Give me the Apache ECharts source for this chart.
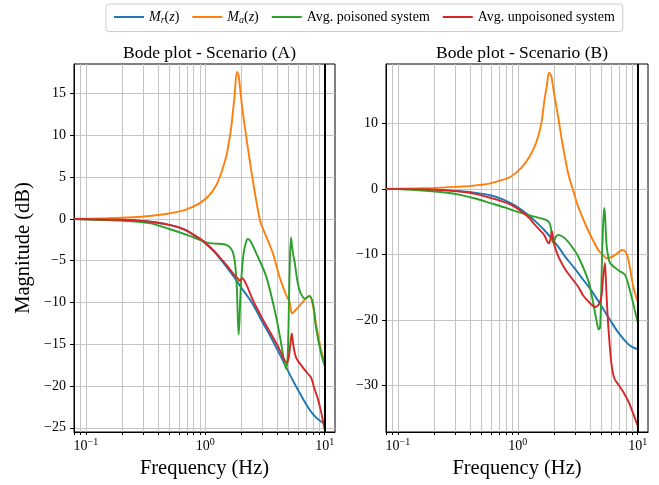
<!DOCTYPE html>
<html>
<head>
<meta charset="utf-8">
<script src="https://cdn.jsdelivr.net/npm/echarts@6/dist/echarts.min.js"></script>
<style>
  html, body { margin: 0; padding: 0; background: #fff; }
  #main { width: 659px; height: 485px; }
</style>
</head>
<body>
<div id="main"></div>
<script>
// [frequency (Hz), magnitude (dB)]
const mrA = [[0.08,0],[0.15,-0.05],[0.2,-0.1],[0.3,-0.25],[0.4,-0.45],[0.5,-0.7],[0.6,-1.0],[0.7,-1.4],[0.8,-1.9],[0.9,-2.4],[1.0,-2.9],[1.2,-4.0],[1.5,-5.7],[1.75,-7.0],[2.0,-8.2],[2.45,-10.0],[3.0,-12.3],[3.5,-14.0],[4.0,-15.6],[4.7,-17.6],[5.4,-19.3],[6.0,-20.5],[7.0,-22.2],[8.0,-23.4],[9.0,-24.1],[10,-24.5]];
const maA = [[0.08,0],[0.15,0.08],[0.25,0.2],[0.34,0.35],[0.47,0.6],[0.61,0.9],[0.74,1.3],[0.9,1.9],[1.09,2.9],[1.24,4.1],[1.36,5.5],[1.5,7.5],[1.58,9.3],[1.65,11.0],[1.76,14.8],[1.84,17.6],[1.9,17.2],[1.96,15.5],[2.05,13.0],[2.2,9.9],[2.42,5.9],[2.67,2.2],[2.9,-0.4],[3.13,-1.6],[3.68,-4.1],[4.18,-6.9],[4.75,-9.1],[5.07,-9.9],[5.2,-10.8],[5.33,-11.3],[5.7,-10.9],[6.14,-10.4],[7.0,-9.5],[7.5,-9.3],[8.0,-10.5],[8.44,-12.5],[9.33,-15.7],[10,-17.1]];
const poisA = [[0.08,0],[0.19,-0.2],[0.34,-0.5],[0.5,-1.2],[0.7,-1.9],[0.9,-2.5],[1.02,-2.8],[1.2,-2.95],[1.4,-3.0],[1.55,-3.2],[1.65,-3.6],[1.72,-4.2],[1.78,-5.5],[1.84,-8.5],[1.9,-13.8],[1.93,-12.5],[1.97,-9.0],[2.03,-6.0],[2.1,-4.0],[2.2,-2.7],[2.27,-2.4],[2.4,-2.7],[2.67,-4.1],[3.24,-6.9],[3.92,-11.7],[4.32,-14.9],[4.75,-17.9],[4.9,-16.5],[5.02,-10.0],[5.12,-4.5],[5.22,-2.2],[5.32,-3.2],[5.45,-4.3],[5.58,-5.0],[5.95,-7.7],[6.3,-8.9],[6.8,-9.5],[7.45,-9.2],[8.0,-10.2],[8.44,-12.9],[9.33,-16.1],[10,-17.6]];
const unpA = [[0.08,0],[0.2,-0.1],[0.3,-0.25],[0.4,-0.45],[0.5,-0.7],[0.6,-1.0],[0.7,-1.4],[0.8,-1.9],[0.9,-2.35],[1.0,-2.85],[1.2,-3.9],[1.4,-5.0],[1.6,-6.0],[1.8,-6.9],[1.87,-7.1],[1.94,-7.4],[2.04,-7.1],[2.2,-7.8],[2.5,-9.7],[3.0,-11.9],[3.5,-13.6],[4.05,-15.2],[4.5,-16.6],[4.8,-17.2],[5.0,-16.6],[5.15,-15.0],[5.3,-13.7],[5.45,-15.0],[5.76,-16.6],[6.5,-17.7],[7.2,-18.5],[7.7,-19.0],[8.2,-20.3],[8.75,-21.5],[9.3,-23.0],[10,-25.2]];

const mrB = [[0.08,0],[0.2,-0.1],[0.33,-0.35],[0.45,-0.6],[0.6,-1.0],[0.75,-1.6],[0.88,-2.2],[1.0,-2.8],[1.21,-3.9],[1.45,-5.2],[1.67,-6.3],[2.17,-8.8],[2.5,-10.4],[2.98,-12.1],[3.5,-13.8],[4.12,-15.5],[5.0,-17.9],[5.8,-19.8],[6.9,-21.9],[8.38,-23.7],[9.2,-24.2],[10,-24.4]];
const maB = [[0.08,0],[0.2,0.15],[0.33,0.35],[0.41,0.46],[0.56,0.76],[0.72,1.3],[0.88,1.9],[1.07,3.2],[1.25,4.9],[1.42,7.0],[1.57,10.0],[1.67,13.6],[1.75,15.8],[1.82,17.7],[1.9,17.25],[1.96,15.8],[2.03,14.1],[2.17,11.0],[2.38,6.5],[2.63,2.4],[2.89,-0.15],[3.19,-2.7],[3.86,-6.3],[4.69,-9.3],[5.17,-10.1],[5.5,-10.6],[6.45,-10.1],[7.46,-9.3],[8.0,-9.7],[8.38,-10.8],[9.2,-14.9],[10,-17.2]];
const poisB = [[0.08,0],[0.15,-0.2],[0.25,-0.55],[0.33,-0.9],[0.45,-1.5],[0.6,-2.2],[0.8,-2.9],[1.0,-3.5],[1.3,-4.1],[1.57,-4.5],[1.75,-4.8],[1.85,-5.3],[1.9,-6.3],[1.95,-8.0],[1.99,-8.2],[2.06,-7.4],[2.17,-7.0],[2.46,-7.5],[2.8,-8.7],[3.19,-10.3],[3.86,-13.9],[4.2,-16.8],[4.53,-20.0],[4.73,-21.4],[4.85,-21.2],[4.95,-17.0],[5.05,-10.0],[5.18,-4.5],[5.28,-2.9],[5.38,-5.0],[5.5,-8.5],[5.7,-10.5],[5.9,-11.3],[6.9,-12.4],[7.84,-13.1],[8.6,-15.4],[9.3,-17.9],[10,-20.3]];
const unpB = [[0.08,0],[0.2,-0.1],[0.33,-0.4],[0.45,-0.8],[0.6,-1.4],[0.8,-2.1],[0.94,-2.7],[1.21,-4.2],[1.38,-5.4],[1.55,-6.4],[1.67,-7.1],[1.76,-8.0],[1.82,-8.3],[1.88,-7.5],[1.93,-6.5],[1.97,-7.5],[2.02,-8.6],[2.17,-10.2],[2.4,-11.8],[2.63,-12.9],[3.19,-14.9],[3.5,-16.2],[4.0,-17.4],[4.4,-18.0],[4.75,-17.6],[5.0,-16.2],[5.15,-13.5],[5.33,-11.3],[5.45,-14.5],[5.6,-19.0],[5.8,-23.0],[6.06,-26.8],[6.4,-28.9],[7.0,-30.0],[7.5,-30.8],[8.38,-32.4],[9.2,-34.3],[10,-36.1]];

const xMajor = [0.1, 1, 10];
const xTicks = [0.08,0.09,0.1,0.2,0.3,0.4,0.5,0.6,0.7,0.8,0.9,1,2,3,4,5,6,7,8,9,10];
const yTicksA = [-25,-20,-15,-10,-5,0,5,10,15];
const yTicksB = [-30,-20,-10,0,10];

const names = ["Mr", "Ma", "Avg. poisoned system", "Avg. unpoisoned system"];
const colors = ["#1f77b4", "#ff7f0e", "#2ca02c", "#d62728"];

const font = "Liberation Serif";
let myChart = echarts.init(document.getElementById("main"));

function fmtY(v) {
  return v < 0 ? "\u2212" + (-v) : String(v);
}
function fmtX(v) {
  let e = Math.round(Math.log10(v));
  return "{b|10}{s|" + (e < 0 ? "\u2212" + (-e) : e) + "}";
}

function xAxisFor(grid) {
  return {
    type: "log",
    gridIndex: grid,
    min: 0.0795,
    max: 12.2,
    name: "Frequency (Hz)",
    nameLocation: "middle",
    nameGap: 25,
    nameTextStyle: { fontFamily: font, fontSize: 20.5, color: "#000" },
    axisLine: { onZero: false, lineStyle: { color: "#000", width: 1 } },
    axisTick: { customValues: xTicks, length: 3, lineStyle: { color: "#000" } },
    axisLabel: {
      customValues: xMajor,
      formatter: fmtX,
      margin: 5,
      color: "#000",
      rich: {
        b: { fontFamily: font, fontSize: 14, color: "#000" },
        s: { fontFamily: font, fontSize: 10, color: "#000", padding: [0, 0, 8, 0] },
      },
    },
    splitLine: { show: true, lineStyle: { color: "#c4c4c4", width: 1 } },
  };
}

function yAxisFor(grid, min, max, ticks, withName) {
  return {
    type: "value",
    gridIndex: grid,
    min: min,
    max: max,
    name: withName ? "Magnitude (dB)" : "",
    nameLocation: "middle",
    nameGap: 40,
    nameTextStyle: { fontFamily: font, fontSize: 20.5, color: "#000" },
    axisLine: { show: true, onZero: false, lineStyle: { color: "#000", width: 1 } },
    axisTick: { show: true, customValues: ticks, length: 4, lineStyle: { color: "#000" } },
    axisLabel: {
      customValues: ticks,
      formatter: fmtY,
      fontFamily: font,
      fontSize: 14,
      color: "#000",
      margin: 8,
    },
    splitLine: { show: true, lineStyle: { color: "#c4c4c4", width: 1 } },
  };
}

function lineSeries(name, data, idx, color, withVLine) {
  let s = {
    name: name,
    type: "line",
    xAxisIndex: idx,
    yAxisIndex: idx,
    data: data,
    showSymbol: false,
    smooth: 0.3,
    lineStyle: { color: color, width: 1.9 },
    itemStyle: { color: color },
    z: 3,
  };
  if (withVLine) {
    s.markLine = {
      silent: true,
      symbol: "none",
      label: { show: false },
      lineStyle: { color: "#000", width: 2, type: "solid" },
      data: [{ xAxis: 10 }],
    };
  }
  return s;
}

let option = {
  animation: false,
  backgroundColor: "#fff",
  title: [
    {
      text: "Bode plot - Scenario (A)",
      left: 204.5, top: 39, textAlign: "center",
      textStyle: { fontFamily: font, fontSize: 17.5, fontWeight: "normal", color: "#000" },
    },
    {
      text: "Bode plot - Scenario (B)",
      left: 517, top: 39, textAlign: "center",
      textStyle: { fontFamily: font, fontSize: 17.5, fontWeight: "normal", color: "#000" },
    },
  ],
  legend: {
    data: names,
    top: 4,
    left: 106,
    icon: "rect",
    itemWidth: 30,
    itemHeight: 2,
    itemGap: 13,
    padding: [6, 8],
    borderColor: "#cccccc",
    borderWidth: 1,
    borderRadius: 3,
    formatter: (n) => {
      if (n === "Mr") return "{i|M}{sub|r}{t|(}{i|z}{t|)}";
      if (n === "Ma") return "{i|M}{sub|a}{t|(}{i|z}{t|)}";
      return "{t|" + n + "}";
    },
    textStyle: {
      rich: {
        t: { fontFamily: font, fontSize: 14, color: "#000" },
        i: { fontFamily: font, fontSize: 14, fontStyle: "italic", color: "#000" },
        sub: { fontFamily: font, fontSize: 10, fontStyle: "italic", color: "#000", padding: [7, 0, 0, 0] },
      },
    },
  },
  grid: [
    { left: 74, top: 64, width: 261, height: 368, show: true, borderColor: "#000", borderWidth: 1 },
    { left: 386, top: 64, width: 262, height: 368, show: true, borderColor: "#000", borderWidth: 1 },
  ],
  xAxis: [xAxisFor(0), xAxisFor(1)],
  yAxis: [
    yAxisFor(0, -25.5, 18.55, yTicksA, true),
    yAxisFor(1, -37.05, 19.04, yTicksB, false),
  ],
  series: [
    lineSeries(names[0], mrA, 0, colors[0], true),
    lineSeries(names[1], maA, 0, colors[1], false),
    lineSeries(names[2], poisA, 0, colors[2], false),
    lineSeries(names[3], unpA, 0, colors[3], false),
    lineSeries(names[0], mrB, 1, colors[0], true),
    lineSeries(names[1], maB, 1, colors[1], false),
    lineSeries(names[2], poisB, 1, colors[2], false),
    lineSeries(names[3], unpB, 1, colors[3], false),
  ],
};

myChart.setOption(option);
</script>
</body>
</html>
